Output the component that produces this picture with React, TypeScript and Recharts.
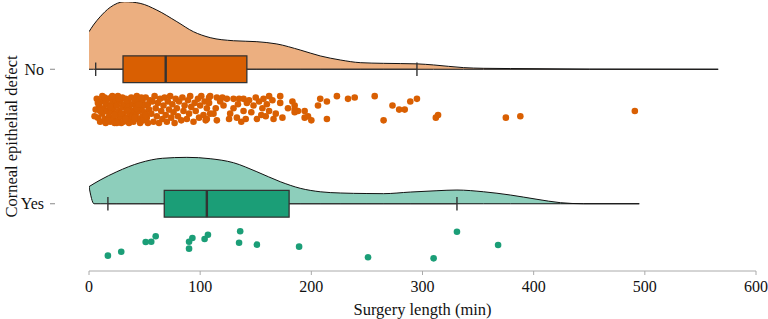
import React from 'react';
import {
  ComposedChart,
  Area,
  Scatter,
  XAxis,
  YAxis,
  ReferenceArea,
  ReferenceLine,
} from 'recharts';

// Groups (top to bottom) and the row each one sits on along the y scale
const groups = ['No', 'Yes'];
const groupRows = [2, 1];

// Box-plot statistics, surgery length in minutes
const whiskerLow = [6, 17];
const quartile1 = [30.6, 67.7];
const medians = [69, 106];
const quartile3 = [142, 180];
const whiskerHigh = [295, 331];

// Half-violin density outline (height in row units)
const noDensityX = [0, 4, 10, 19, 32, 46, 61, 79, 94, 109, 130, 151, 169, 190, 208, 226, 244, 265, 295, 310, 337, 355, 403, 450, 566];
const noDensity = [0.279, 0.329, 0.39, 0.46, 0.502, 0.49, 0.44, 0.354, 0.279, 0.235, 0.212, 0.205, 0.188, 0.143, 0.099, 0.069, 0.049, 0.044, 0.04, 0.032, 0.012, 0.007, 0.004, 0.001, 0];
const yesDensityX = [0, 4.5, 10, 25, 46, 66, 88, 109, 130, 151, 172, 190, 208, 226, 250, 265, 289, 313, 331, 355, 379, 403, 424, 445, 495];
const yesDensity = [0.127, 0.15, 0.176, 0.238, 0.305, 0.338, 0.345, 0.335, 0.305, 0.238, 0.164, 0.115, 0.089, 0.08, 0.076, 0.075, 0.087, 0.097, 0.102, 0.089, 0.065, 0.033, 0.008, 0, 0];
// the Yes outline's lower edge starts a little right of its upper edge
const densityBaseStart = [0, 4.5];

// Jittered observations: [minutes, jitter below the row in hundredths]
const noPoints: [number, number][] = [
  [6, 30], [7, 22], [8, 36], [9, 27], [10, 39], [11, 24], [12, 33], [12, 20], [13, 29], [14, 37],
  [15, 25], [15, 40], [16, 31], [17, 22], [18, 35], [18, 27], [19, 39], [20, 21], [20, 31], [21, 25],
  [22, 36], [22, 29], [23, 40], [24, 23], [24, 33], [25, 27], [26, 38], [26, 20], [27, 31], [28, 24],
  [28, 35], [29, 40], [30, 28], [30, 21], [31, 33], [32, 26], [32, 38], [33, 22], [34, 30], [34, 36],
  [35, 24], [36, 40], [36, 28], [37, 33], [38, 21], [38, 37], [39, 26], [40, 31], [40, 39], [41, 23],
  [42, 34], [42, 28], [43, 20], [44, 37], [44, 25], [45, 31], [46, 40], [46, 22], [47, 29], [48, 35],
  [48, 24], [49, 38], [50, 27], [50, 32], [51, 21], [52, 36], [53, 26], [53, 40], [54, 30], [55, 23],
  [10, 31], [14, 21], [19, 28], [23, 34], [27, 22], [31, 39], [35, 31], [39, 35], [43, 29], [47, 21],
  [51, 34], [8, 25], [17, 38], [29, 33], [41, 36], [5, 35], [21, 20], [33, 37], [45, 26], [25, 40],
  [56, 33], [57, 24], [58, 39], [59, 20], [60, 29], [61, 35], [62, 25], [63, 40], [64, 22], [65, 31],
  [66, 37], [67, 27], [68, 21], [69, 34], [70, 39], [71, 24], [72, 30], [73, 20], [74, 36], [75, 26],
  [76, 32], [77, 40], [78, 22], [79, 29], [80, 35], [81, 24], [83, 38], [84, 21], [85, 31], [86, 27],
  [88, 37], [89, 23], [90, 33], [91, 20], [92, 28], [94, 39], [95, 25], [96, 31], [98, 22], [99, 36],
  [100, 27], [101, 20], [103, 34], [104, 24], [105, 38], [106, 29], [108, 21], [109, 33],
  [109, 20], [115, 21], [120, 21], [124, 22], [130, 22], [135, 22], [139, 22], [144, 23], [153, 24],
  [157, 22], [162, 20], [108, 25], [114, 29], [121, 27], [130, 29], [139, 31], [148, 27], [156, 29],
  [162, 31], [159, 35], [151, 37], [141, 37], [133, 36], [126, 37], [115, 38], [106, 37], [166, 37],
  [142, 25], [112, 33], [118, 24], [127, 33], [134, 26], [137, 39], [146, 32], [150, 21], [155, 34],
  [160, 26], [165, 23], [168, 33],
  [172, 20], [172, 25], [179, 29], [183, 24], [185, 27], [185, 32], [188, 31], [194, 31], [194, 36],
  [197, 35], [200, 38], [174, 36], [206, 27], [208, 22], [214, 24], [223, 20], [214, 37], [233, 22],
  [185, 30], [239, 21],
  [257, 20], [273, 27], [265, 38], [279, 30], [284, 30], [289, 24], [295, 22], [312, 36], [314, 34],
  [375, 36], [388, 35], [491, 31],
];
const yesPoints: [number, number][] = [
  [17, 38.6], [29, 35.7], [51, 28.4], [56, 28.2], [60, 24.2], [90, 33.4], [90, 28.2], [93, 25.5],
  [104, 26.2], [107, 23], [136, 20.5], [135, 29], [151, 30.4], [189, 31.9], [251, 39.8], [331, 20.8],
  [368, 30.7], [310, 40.6],
];

const xTicks = [0, 100, 200, 300, 400, 500, 600];

const densityX = [noDensityX, yesDensityX];
const densityH = [noDensity, yesDensity];
const pointSets = [noPoints, yesPoints];

const FONT = '"Liberation Serif", "Times New Roman", serif';
const INK = '#333333';
const boxFills = ['#D95F02', '#1B9E77'];
const violinFills = ['#ECAF80', '#8DCEBB'];

const violinData = groups.map((_, g) =>
  densityX[g].map((x, i) => {
    const row = groupRows[g];
    const top = row + densityH[g][i];
    const base = x < densityBaseStart[g] ? top : row;
    return { x, band: [base, top] };
  })
);

const pointData = groups.map((_, g) =>
  pointSets[g].map(([m, j]) => ({ x: m, y: groupRows[g] - j / 100 }))
);

const Dot = (color: string) => (props: any) => {
  const { cx, cy } = props;
  if (cx == null || cy == null) return <g />;
  return <circle cx={cx} cy={cy} r={3.3} fill={color} />;
};

const RowTick = (props: any) => {
  const { x, y, payload } = props;
  const idx = groupRows.indexOf(payload.value);
  return (
    <g>
      <line x1={x - 39} x2={x - 34} y1={y} y2={y} stroke="#888" strokeWidth={1} />
      <text
        x={x - 45}
        y={y}
        dy="0.33em"
        textAnchor="end"
        fontFamily={FONT}
        fontSize={16}
        fill="#111"
      >
        {idx >= 0 ? groups[idx] : ''}
      </text>
    </g>
  );
};

export default function App() {
  return (
    <div style={{ position: 'absolute', left: 0, top: 0, background: '#fff' }}>
      <ComposedChart
        width={768}
        height={319}
        margin={{ top: 2, right: 12, bottom: 0, left: 0 }}
      >
        <XAxis
          dataKey="x"
          type="number"
          domain={[0, 600]}
          ticks={xTicks}
          allowDataOverflow
          height={48}
          stroke="#aaa"
          tickSize={4}
          tickMargin={6}
          tick={{ fontFamily: FONT, fontSize: 16, fill: '#111' }}
          label={{
            value: 'Surgery length (min)',
            position: 'insideBottom',
            offset: 4,
            style: { fontFamily: FONT, fontSize: 16.5, fill: '#111', textAnchor: 'middle' },
          }}
        />
        <YAxis
          type="number"
          dataKey="y"
          domain={[0.5, 2.5]}
          ticks={groupRows}
          allowDataOverflow
          width={89}
          axisLine={false}
          tickLine={false}
          tickSize={0}
          tickMargin={0}
          tick={<RowTick />}
          label={{
            value: 'Corneal epithelial defect',
            angle: -90,
            position: 'insideLeft',
            offset: 11,
            style: { fontFamily: FONT, fontSize: 16.5, fill: '#111', textAnchor: 'middle' },
          }}
        />

        {groups.map((g, i) => (
          <Area
            key={`violin-${g}`}
            data={violinData[i]}
            dataKey="band"
            type="monotone"
            fill={violinFills[i]}
            fillOpacity={1}
            stroke="#111"
            strokeWidth={1}
            isAnimationActive={false}
            dot={false}
            activeDot={false}
          />
        ))}

        {groups.map((g, i) => {
          const row = groupRows[i];
          return (
            <React.Fragment key={`box-${g}`}>
              <ReferenceLine
                segment={[{ x: whiskerLow[i], y: row }, { x: quartile1[i], y: row }]}
                stroke={INK}
                strokeWidth={1.2}
              />
              <ReferenceLine
                segment={[{ x: quartile3[i], y: row }, { x: whiskerHigh[i], y: row }]}
                stroke={INK}
                strokeWidth={1.2}
              />
              <ReferenceLine
                segment={[{ x: whiskerLow[i], y: row - 0.05 }, { x: whiskerLow[i], y: row + 0.05 }]}
                stroke={INK}
                strokeWidth={1.4}
              />
              <ReferenceLine
                segment={[{ x: whiskerHigh[i], y: row - 0.05 }, { x: whiskerHigh[i], y: row + 0.05 }]}
                stroke={INK}
                strokeWidth={1.4}
              />
              <ReferenceArea
                x1={quartile1[i]}
                x2={quartile3[i]}
                y1={row - 0.1}
                y2={row + 0.1}
                fill={boxFills[i]}
                fillOpacity={1}
                stroke={INK}
                strokeWidth={1.3}
              />
              <ReferenceLine
                segment={[{ x: medians[i], y: row - 0.1 }, { x: medians[i], y: row + 0.1 }]}
                stroke={INK}
                strokeWidth={2.4}
              />
            </React.Fragment>
          );
        })}

        {groups.map((g, i) => (
          <Scatter
            key={`rain-${g}`}
            data={pointData[i]}
            dataKey="y"
            shape={Dot(boxFills[i])}
            isAnimationActive={false}
          />
        ))}
      </ComposedChart>
    </div>
  );
}
